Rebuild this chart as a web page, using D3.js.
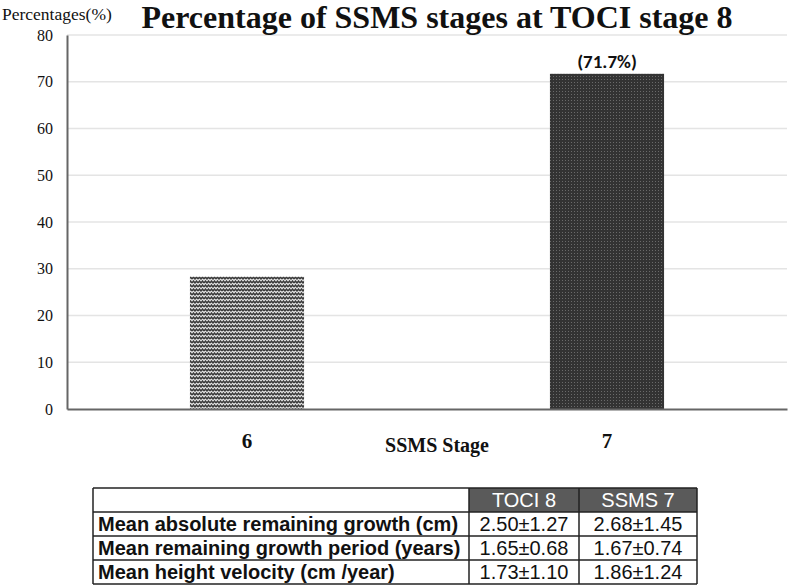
<!DOCTYPE html>
<html>
<head>
<meta charset="utf-8">
<script src="https://cdn.jsdelivr.net/npm/d3@7"></script>
<style>
  html, body { margin: 0; padding: 0; background: #fff; }
  svg { display: block; }
</style>
</head>
<body>
<svg id="chart" width="791" height="587"></svg>
<script>
// ---- data ----
const categories = ["6", "7"];
const values = [28.3, 71.7];
const barLabels = ["", "(71.7%)"];
const yTicks = [0, 10, 20, 30, 40, 50, 60, 70, 80];
const title = "Percentage of SSMS stages at TOCI stage 8";
const yAxisTitle = "Percentages(%)";
const xAxisTitle = "SSMS Stage";

const tableHeaders = ["TOCI 8", "SSMS 7"];
const tableRowLabels = [
  "Mean absolute remaining growth (cm)",
  "Mean remaining growth period (years)",
  "Mean height velocity (cm /year)"
];
const tableToci = ["2.50\u00b11.27", "1.65\u00b10.68", "1.73\u00b11.10"];
const tableSsms = ["2.68\u00b11.45", "1.67\u00b10.74", "1.86\u00b11.24"];

// ---- layout ----
const svg = d3.select("#chart");
const plot = { left: 67, right: 787, top: 35, bottom: 409 };
const serif = "'Liberation Serif', 'Times New Roman', serif";
const sans = "'Liberation Sans', Arial, sans-serif";

const x = d3.scaleBand().domain(categories)
  .range([plot.left, plot.right]).paddingInner(0.683).paddingOuter(0.3415);
const y = d3.scaleLinear().domain([0, 80]).range([plot.bottom, plot.top]);

// patterns
const defs = svg.append("defs");
const zig = defs.append("pattern").attr("id", "zig")
  .attr("patternUnits", "userSpaceOnUse").attr("width", 6).attr("height", 4);
zig.append("rect").attr("width", 6).attr("height", 4).attr("fill", "#e6e6e6");
zig.append("path").attr("d", "M0,3 L1.5,1 L3,3 L4.5,1 L6,3")
  .attr("fill", "none").attr("stroke", "#3a3a3a").attr("stroke-width", 1.4);
const dots = defs.append("pattern").attr("id", "dots")
  .attr("patternUnits", "userSpaceOnUse").attr("width", 3).attr("height", 3);
dots.append("rect").attr("width", 3).attr("height", 3).attr("fill", "#333");
dots.append("rect").attr("x", 1).attr("y", 1).attr("width", 1).attr("height", 1).attr("fill", "#6a6a6a");

// gridlines
svg.append("g").selectAll("line").data(yTicks.filter(d => d > 0)).join("line")
  .attr("x1", plot.left).attr("x2", plot.right)
  .attr("y1", d => y(d)).attr("y2", d => y(d))
  .attr("stroke", "#e4e4e4").attr("stroke-width", 1.5);

// y axis
const yAxis = svg.append("g").attr("transform", `translate(${plot.left},0)`)
  .call(d3.axisLeft(y).tickValues(yTicks).tickSize(0).tickPadding(14));
yAxis.select(".domain").attr("stroke", "#666").attr("stroke-width", 2);
yAxis.selectAll("text").attr("font-family", serif).attr("font-size", 16).attr("fill", "#111");

// bars
svg.append("g").selectAll("rect").data(categories).join("rect")
  .attr("x", d => x(d)).attr("width", x.bandwidth())
  .attr("y", (d, i) => y(values[i]))
  .attr("height", (d, i) => y(0) - y(values[i]))
  .attr("fill", (d, i) => i === 0 ? "url(#zig)" : "url(#dots)");

// bar labels
svg.append("g").selectAll("text").data(categories).join("text")
  .attr("x", d => x(d) + x.bandwidth() / 2)
  .attr("y", (d, i) => y(values[i]) - 6)
  .attr("text-anchor", "middle")
  .attr("font-family", "Carlito, Calibri, " + sans).attr("font-weight", "bold")
  .attr("font-size", 19).attr("fill", "#111")
  .text((d, i) => barLabels[i]);

// x axis
const xAxis = svg.append("g").attr("transform", `translate(0,${plot.bottom})`)
  .call(d3.axisBottom(x).tickSize(0).tickPadding(24));
xAxis.select(".domain").attr("stroke", "#666").attr("stroke-width", 2);
xAxis.selectAll("text").attr("font-family", serif).attr("font-weight", "bold")
  .attr("font-size", 21).attr("fill", "#111");

// titles
svg.append("text").attr("x", 437).attr("y", 28).attr("text-anchor", "middle")
  .attr("font-family", serif).attr("font-weight", "bold").attr("font-size", 32)
  .attr("fill", "#111").text(title);
svg.append("text").attr("x", 2).attr("y", 20)
  .attr("font-family", serif).attr("font-size", 17.5).attr("fill", "#111").text(yAxisTitle);
svg.append("text").attr("x", 437).attr("y", 452).attr("text-anchor", "middle")
  .attr("font-family", serif).attr("font-weight", "bold").attr("font-size", 20)
  .attr("fill", "#111").text(xAxisTitle);

// table
const tbl = { top: 488, rowH: 24, cols: [93, 469, 579, 697] };
const fs = 20;
const tg = svg.append("g");
const nRows = tableRowLabels.length + 1;
tableHeaders.forEach((h, j) => {
  tg.append("rect").attr("x", tbl.cols[j + 1]).attr("y", tbl.top)
    .attr("width", tbl.cols[j + 2] - tbl.cols[j + 1]).attr("height", tbl.rowH)
    .attr("fill", "#5a5a5a");
  tg.append("text").attr("x", (tbl.cols[j + 1] + tbl.cols[j + 2]) / 2)
    .attr("y", tbl.top + tbl.rowH / 2 + 7).attr("text-anchor", "middle")
    .attr("font-family", sans).attr("font-size", fs).attr("fill", "#fff").text(h);
});
tableRowLabels.forEach((lab, i) => {
  const yy = tbl.top + tbl.rowH * (i + 1);
  tg.append("text").attr("x", tbl.cols[0] + 5).attr("y", yy + tbl.rowH / 2 + 7)
    .attr("font-family", sans).attr("font-weight", "bold").attr("font-size", fs)
    .attr("fill", "#111").text(lab);
  [tableToci[i], tableSsms[i]].forEach((v, j) => {
    tg.append("text").attr("x", (tbl.cols[j + 1] + tbl.cols[j + 2]) / 2)
      .attr("y", yy + tbl.rowH / 2 + 7).attr("text-anchor", "middle")
      .attr("font-family", sans).attr("font-size", fs).attr("fill", "#111").text(v);
  });
});
for (let r = 0; r <= nRows; r++) {
  tg.append("line").attr("x1", tbl.cols[0]).attr("x2", tbl.cols[3])
    .attr("y1", tbl.top + r * tbl.rowH).attr("y2", tbl.top + r * tbl.rowH)
    .attr("stroke", "#222").attr("stroke-width", 1.5);
}
tbl.cols.forEach(cx => {
  tg.append("line").attr("x1", cx).attr("x2", cx)
    .attr("y1", tbl.top).attr("y2", tbl.top + nRows * tbl.rowH)
    .attr("stroke", "#222").attr("stroke-width", 1.5);
});
</script>
</body>
</html>
